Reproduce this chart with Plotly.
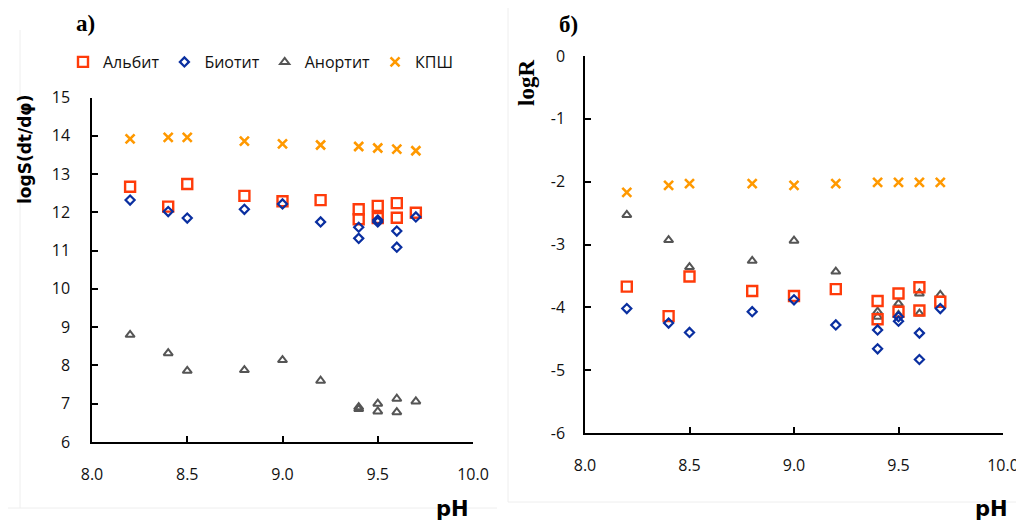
import plotly.graph_objects as go

# ---- data ----
ph_points = [8.2, 8.4, 8.5, 8.8, 9.0, 9.2, 9.4, 9.4, 9.5, 9.5, 9.6, 9.6, 9.7]
ph_kpsh = [8.2, 8.4, 8.5, 8.8, 9.0, 9.2, 9.4, 9.5, 9.6, 9.7]

albite_S = [12.67, 12.15, 12.74, 12.43, 12.29, 12.32, 12.08, 11.82, 12.17, 11.85, 12.24, 11.86, 11.99]
biotite_S = [12.32, 12.02, 11.85, 12.08, 12.22, 11.75, 11.61, 11.32, 11.80, 11.75, 11.51, 11.09, 11.88]
anorthite_S = [8.80, 8.32, 7.86, 7.88, 8.14, 7.60, 6.91, 6.86, 7.00, 6.80, 7.13, 6.78, 7.06]
kpsh_S = [13.92, 13.96, 13.96, 13.86, 13.79, 13.76, 13.72, 13.68, 13.65, 13.61]

albite_R = [-3.67, -4.14, -3.51, -3.74, -3.82, -3.71, -3.90, -4.19, -3.78, -4.07, -3.68, -4.05, -3.91]
biotite_R = [-4.02, -4.25, -4.40, -4.07, -3.88, -4.28, -4.36, -4.66, -4.15, -4.22, -4.41, -4.83, -4.02]
anorthite_R = [-2.53, -2.93, -3.36, -3.26, -2.94, -3.43, -4.07, -4.15, -3.94, -4.12, -3.78, -4.10, -3.80]
kpsh_R = [-2.17, -2.06, -2.03, -2.03, -2.06, -2.03, -2.01, -2.01, -2.01, -2.01]

names = ["Альбит", "Биотит", "Анортит", "КПШ"]
x_ticks = [8.0, 8.5, 9.0, 9.5, 10.0]
x_ticklabels = ["8.0", "8.5", "9.0", "9.5", "10.0"]
yS_ticks = [6, 7, 8, 9, 10, 11, 12, 13, 14, 15]
yR_ticks = [-6, -5, -4, -3, -2, -1, 0]
yR_ticklabels = ["-6", "-5", "-4", "-3", "-2", "-1", "0"]

# ---- page geometry (the page body has an 8px margin) ----
OFF = 8
W, H = 1024 - OFF, 527 - OFF

def px(x):
    return (x - OFF) / W

def py(y):
    return 1 - (y - OFF) / H

# ---- styles ----
styles = {
    "Альбит": dict(symbol="square-open", size=10, color="#FF3B0A", lw=2.4),
    "Биотит": dict(symbol="diamond-open", size=7, color="#0A2FA0", lw=2.2),
    "Анортит": dict(symbol="triangle-up-open", size=8, color="#555555", lw=2.0),
    "КПШ": dict(symbol="x-thin-open", size=9, color="#FF9900", lw=2.6),
}

fig = go.Figure()

def add(name, xs, ys, xa, ya, show, rank):
    s = styles[name]
    fig.add_trace(go.Scatter(
        x=xs, y=ys, mode="markers", name=name, legendgroup=name,
        showlegend=show, legendrank=rank, xaxis=xa, yaxis=ya,
        marker=dict(symbol=s["symbol"], size=s["size"], color=s["color"],
                    line=dict(color=s["color"], width=s["lw"])),
    ))

for xa, ya, show, sets in [
    ("x", "y", True, [("КПШ", ph_kpsh, kpsh_S), ("Анортит", ph_points, anorthite_S),
                      ("Альбит", ph_points, albite_S), ("Биотит", ph_points, biotite_S)]),
    ("x2", "y2", False, [("КПШ", ph_kpsh, kpsh_R), ("Анортит", ph_points, anorthite_R),
                         ("Альбит", ph_points, albite_R), ("Биотит", ph_points, biotite_R)]),
]:
    for nm, xs, ys in sets:
        add(nm, xs, ys, xa, ya, show, names.index(nm) + 1)

tickfont = dict(family="Open Sans", size=16, color="#111111")
axis_common = dict(showgrid=False, zeroline=False, showline=True, linecolor="#000000",
                   linewidth=1.5, ticks="inside", ticklen=6, tickwidth=1.5,
                   tickcolor="#000000", tickfont=tickfont, automargin=False)

fig.update_layout(
    width=W, height=H,
    margin=dict(l=0, r=0, t=0, b=0, autoexpand=False),
    paper_bgcolor="white", plot_bgcolor="white",
    showlegend=True,
    legend=dict(orientation="h", x=px(63), y=py(62), xanchor="left", yanchor="middle",
                font=dict(family="Open Sans", size=16, color="#111111"),
                itemwidth=30, bgcolor="rgba(0,0,0,0)", traceorder="normal"),
    xaxis=dict(domain=[px(92), px(473)], range=[8.0, 10.0], tickvals=x_ticks,
               ticktext=x_ticklabels, anchor="y", ticklabelstandoff=17, **axis_common),
    yaxis=dict(domain=[py(442), py(97.5)], range=[6, 15], tickvals=yS_ticks, anchor="x",
               ticklabelstandoff=17, **axis_common),
    xaxis2=dict(domain=[px(585), px(1003)], range=[8.0, 10.0], tickvals=x_ticks,
                ticktext=x_ticklabels, anchor="y2", ticklabelstandoff=17, **axis_common),
    yaxis2=dict(domain=[py(433), py(56)], range=[-6, 0], tickvals=yR_ticks,
                ticktext=yR_ticklabels, anchor="x2", ticklabelstandoff=15, **axis_common),
)

# faint image-border lines seen in the reference
faint = dict(color="#EEEEEE", width=1)
fig.add_shape(type="line", xref="paper", yref="paper", x0=px(20), x1=px(20),
              y0=py(30), y1=py(508), line=faint)
fig.add_shape(type="line", xref="paper", yref="paper", x0=0, x1=px(497),
              y0=py(508), y1=py(508), line=faint)
fig.add_shape(type="line", xref="paper", yref="paper", x0=px(508), x1=px(508),
              y0=1, y1=py(502), line=faint)
fig.add_shape(type="line", xref="paper", yref="paper", x0=px(508), x1=1,
              y0=py(502), y1=py(502), line=faint)

def ann(text, x, y, font, angle=0):
    fig.add_annotation(text=text, x=px(x), y=py(y), xref="paper", yref="paper",
                       showarrow=False, textangle=angle, font=font,
                       xanchor="center", yanchor="middle")

serif_b = dict(family="Liberation Serif", size=23, color="#000000")
ann("<b>а)</b>", 85, 23, serif_b)
ann("<b>б)</b>", 568, 25, serif_b)
ann("<b>logS(dt/dφ)</b>", 25, 150, dict(family="DejaVu Sans", size=17, color="#000000"), -90)
ann("<b>logR</b>", 527, 83, dict(family="Liberation Serif", size=23, color="#000000"), -90)
ann("<b>pH</b>", 452, 509, dict(family="DejaVu Sans", size=21, color="#000000"))
ann("<b>pH</b>", 991, 509, dict(family="DejaVu Sans", size=21, color="#000000"))

fig.write_html("out.html")
